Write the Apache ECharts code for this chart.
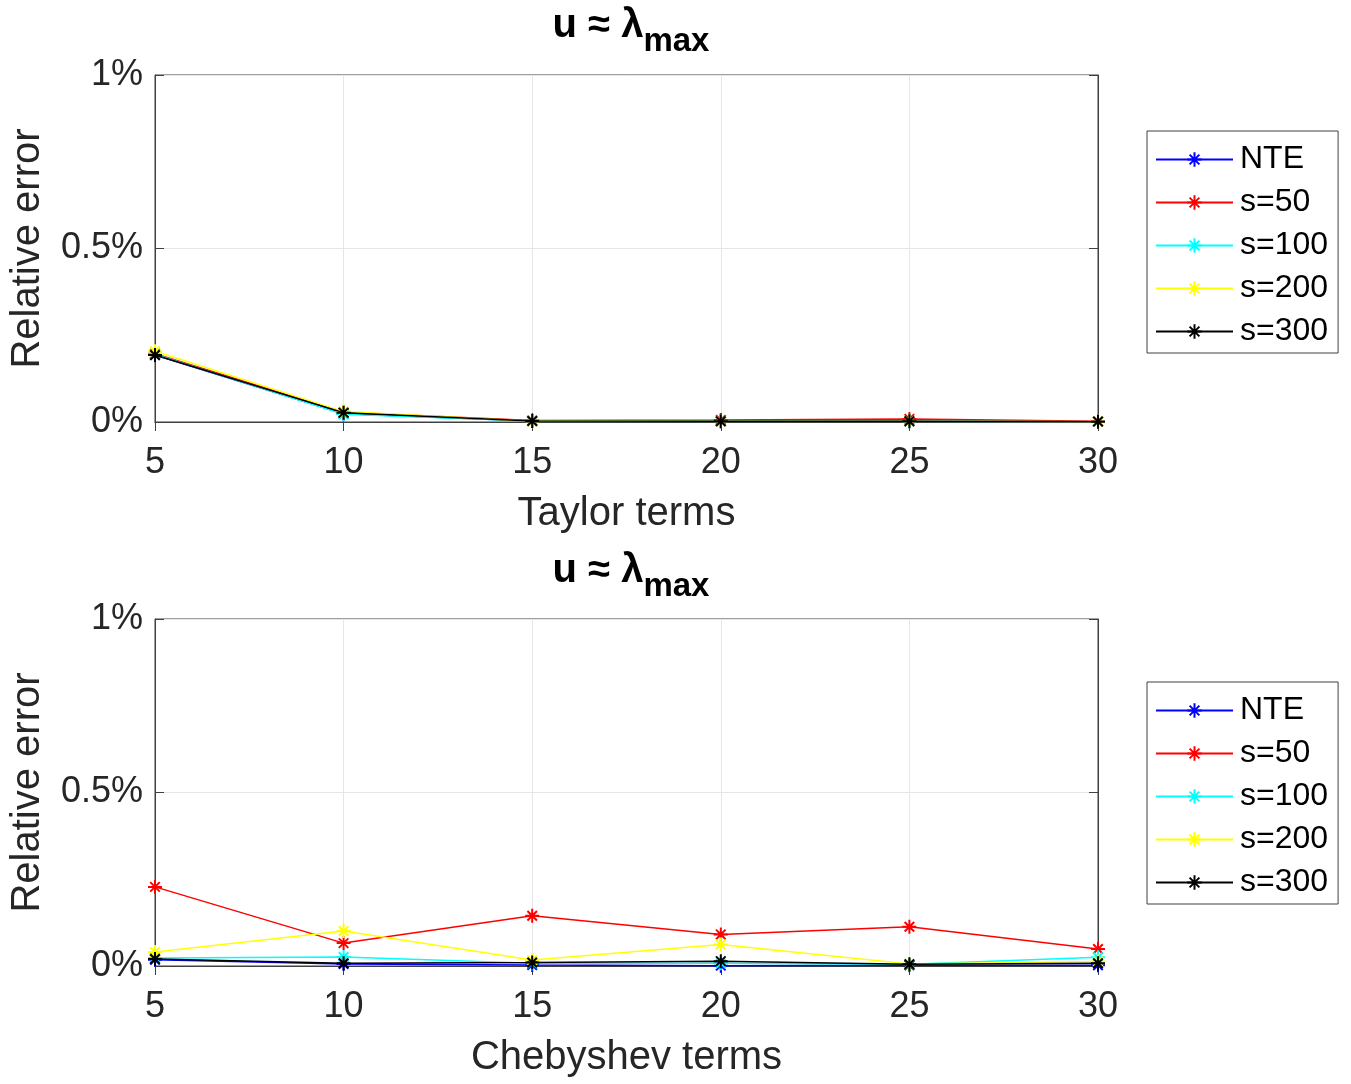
<!DOCTYPE html>
<html>
<head>
<meta charset="utf-8">
<script src="https://cdn.jsdelivr.net/npm/echarts@6/dist/echarts.min.js"></script>
<style>html,body{margin:0;padding:0;background:#fff}#c{width:1351px;height:1084px}</style>
</head>
<body>
<div id="c"></div>
<script>
// ---- data (values in percent) ----
const terms = [5, 10, 15, 20, 25, 30];
const seriesNames = ['NTE', 's=50', 's=100', 's=200', 's=300'];
const yTicks = [0, 0.5, 1];
const titleMain = 'u ≈ λ';
const titleSub = 'max';
const xLabelTop = 'Taylor terms';
const xLabelBottom = 'Chebyshev terms';
const yLabel = 'Relative error';

// Taylor (top)
const taylorNTE  = [0.193, 0.024, 0.003, 0.002, 0.002, 0.001];
const taylorS50  = [0.197, 0.028, 0.004, 0.006, 0.009, 0.002];
const taylorS100 = [0.195, 0.022, 0.003, 0.003, 0.002, 0.001];
const taylorS200 = [0.204, 0.030, 0.002, 0.002, 0.002, 0.001];
const taylorS300 = [0.193, 0.027, 0.003, 0.002, 0.002, 0.001];

// Chebyshev (bottom)
const chebNTE  = [0.018, 0.006, 0.003, 0.001, 0.002, 0.002];
const chebS50  = [0.228, 0.066, 0.145, 0.091, 0.113, 0.049];
const chebS100 = [0.023, 0.026, 0.008, 0.008, 0.005, 0.025];
const chebS200 = [0.040, 0.101, 0.017, 0.062, 0.006, 0.013];
const chebS300 = [0.020, 0.008, 0.010, 0.014, 0.005, 0.008];

const colors = ['#0000ff', '#ff0000', '#00ffff', '#ffff00', '#000000'];
const topData = [taylorNTE, taylorS50, taylorS100, taylorS200, taylorS300];
const botData = [chebNTE, chebS50, chebS100, chebS200, chebS300];

const FONT = '"Liberation Sans", Arial, Helvetica, sans-serif';
const AX = '#404040';
const star = 'path://M5,0 L5,10 M0,5 L10,5 M1.6,1.6 L8.4,8.4 M1.6,8.4 L8.4,1.6';

const chart = echarts.init(document.getElementById('c'), null, {renderer: 'canvas'});

const grids = [
  {left: 155, top: 75, width: 943, height: 347, show: true, borderColor: AX, borderWidth: 1, backgroundColor: '#fff'},
  {left: 155, top: 619, width: 943, height: 347, show: true, borderColor: AX, borderWidth: 1, backgroundColor: '#fff'}
];

function mkX(gi, name) {
  return [{
    type: 'value', gridIndex: gi, min: 5, max: 30, interval: 5,
    name: name, nameLocation: 'middle', nameGap: 72,
    nameTextStyle: {fontFamily: FONT, fontSize: 40, color: '#262626'},
    axisLine: {show: true, lineStyle: {color: AX, width: 1}},
    axisTick: {show: true, inside: true, length: 9, lineStyle: {color: AX}},
    axisLabel: {fontFamily: FONT, fontSize: 36, color: '#262626', margin: 23},
    splitLine: {show: true, lineStyle: {color: '#e6e6e6', width: 1}}
  }, {
    type: 'value', gridIndex: gi, min: 5, max: 30, interval: 5, position: 'top',
    axisLine: {show: true, lineStyle: {color: AX, width: 1}},
    axisTick: {show: true, inside: true, length: 9, lineStyle: {color: AX}},
    axisLabel: {show: false}, splitLine: {show: false}
  }];
}
function mkY(gi) {
  return [{
    type: 'value', gridIndex: gi, min: yTicks[0], max: yTicks[yTicks.length - 1], interval: 0.5,
    name: yLabel, nameLocation: 'middle', nameGap: 107, nameRotate: 90,
    nameTextStyle: {fontFamily: FONT, fontSize: 40, color: '#262626'},
    axisLine: {show: true, lineStyle: {color: AX, width: 1}},
    axisTick: {show: true, inside: true, length: 9, lineStyle: {color: AX}},
    axisLabel: {fontFamily: FONT, fontSize: 36, color: '#262626', margin: 12, formatter: v => v + '%'},
    splitLine: {show: true, lineStyle: {color: '#e6e6e6', width: 1}}
  }, {
    type: 'value', gridIndex: gi, min: 0, max: 1, interval: 0.5, position: 'right',
    axisLine: {show: true, lineStyle: {color: AX, width: 1}},
    axisTick: {show: true, inside: true, length: 9, lineStyle: {color: AX}},
    axisLabel: {show: false}, splitLine: {show: false}
  }];
}

const series = [];
[topData, botData].forEach((set, gi) => {
  set.forEach((vals, i) => {
    series.push({
      type: 'line', name: seriesNames[i],
      xAxisIndex: gi * 2, yAxisIndex: gi * 2,
      data: terms.map((t, k) => [t, vals[k]]),
      symbol: star, symbolSize: 14, showSymbol: true,
      lineStyle: {color: colors[i], width: 1.5},
      itemStyle: {color: 'rgba(0,0,0,0)', borderColor: colors[i], borderWidth: 2},
      emphasis: {disabled: true},
      animation: false, z: 3 + i
    });
  });
});

function mkLegend(top) {
  return {
    orient: 'vertical', left: 1147, top: top,
    data: seriesNames,
    itemWidth: 77, itemHeight: 18, itemGap: 10,
    padding: [12, 10, 5, 8],
    borderColor: AX, borderWidth: 1, backgroundColor: '#fff',
    textStyle: {fontFamily: FONT, fontSize: 32, color: '#000', lineHeight: 33, padding: [0, 0, 0, 2]},
    selectedMode: false
  };
}

function mkTitle(top) {
  return {
    text: '{m|' + titleMain + '}{s|' + titleSub + '}',
    left: 626, top: top, textAlign: 'center',
    textStyle: {
      rich: {
        m: {fontFamily: FONT, fontSize: 40, fontWeight: 'bold', color: '#000', verticalAlign: 'bottom', lineHeight: 46},
        s: {fontFamily: FONT, fontSize: 33, fontWeight: 'bold', color: '#000', verticalAlign: 'bottom', padding: [0, 0, -12, 0], lineHeight: 46}
      }
    }
  };
}

chart.setOption({
  animation: false,
  backgroundColor: '#fff',
  title: [mkTitle(-5), mkTitle(540)],
  grid: grids,
  xAxis: [...mkX(0, xLabelTop), ...mkX(1, xLabelBottom)],
  yAxis: [...mkY(0), ...mkY(1)],
  legend: [mkLegend(131), mkLegend(682)],
  series: series
});
</script>
</body>
</html>
